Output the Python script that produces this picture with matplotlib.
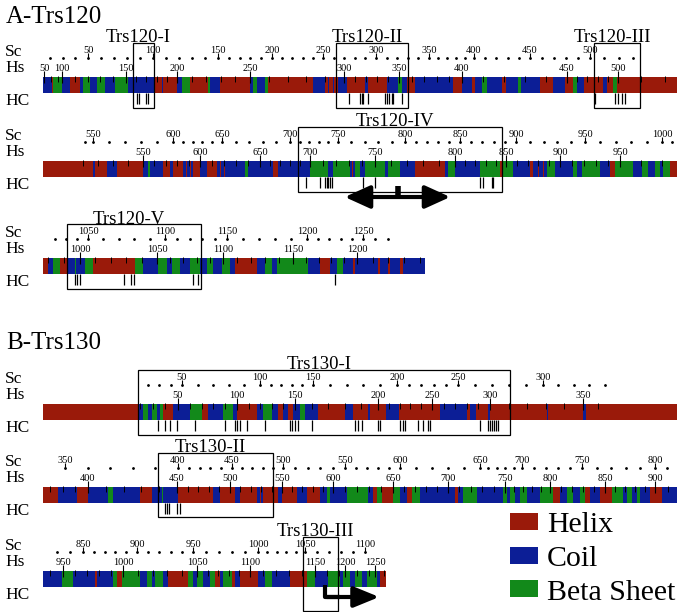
import matplotlib.pyplot as plt
import numpy as np
from matplotlib.patches import Rectangle, FancyArrowPatch, Patch

plt.rcParams['font.family'] = ['Liberation Serif', 'DejaVu Serif']

colors = {'H': '#9a1a0a', 'C': '#0c1e96', 'E': '#12891a'}

# secondary structure: type + end column (alignment columns, each row starts at col 43)
row_start = 43
ss_a1 = ("C52 H53 E62 C70 H80 C83 E90 C97 E105 C115 E128 C154 H162 C163 H177 C182 E190 H208 E210 "
         "C220 H250 C253 E257 C265 E268 H313 C325 H328 C329 H333 C334 H338 C347 H365 C368 H387 C398 "
         "E402 C407 H415 C453 H462 C472 H475 C482 E487 C502 H506 C518 E521 C540 H553 C565 H573 E577 "
         "C584 H603 C607 H613 E617 H677")
ss_a2 = ("H93 C95 H107 C117 H143 C148 E150 C163 H170 C173 H183 C186 H187 C190 H191 C193 H200 C207 H217 "
         "C220 H221 C224 H225 C245 E248 C273 H278 C310 E328 C333 E350 C352 H353 C355 E360 C365 E385 C388 "
         "E400 C415 H445 C448 E455 C480 E500 H502 E513 C530 H533 C538 H539 C543 H544 C547 E555 C573 E577 "
         "C582 E600 C610 H615 E633 C642 E648 C655 E660 C663 E670 H677")
ss_a3 = ("H48 C53 E60 H67 C75 E76 C85 E93 H135 E143 C158 E167 C172 E180 C190 E200 C207 E213 C222 E230 "
         "C235 H257 C265 E272 C277 E308 C320 H330 C337 E343 C353 H355 C378 H380 C388 H390 C400 H403 C425")
ss_b1 = ("H138 C143 E148 C152 E157 C160 E163 H173 C190 E202 H208 C223 E233 C237 H257 C263 E272 C278 H283 "
         "C288 H293 C300 E305 C318 H345 C353 H368 C370 H386 C399 H440 C467 H470 C476 H488 C490 H547 C548 "
         "H583 C586 H677")
ss_b2 = ("H58 C77 H88 C108 E113 C140 H152 C162 E163 C178 H213 C220 H235 C240 H257 C260 H261 C263 H278 "
         "C282 H297 C307 H320 C327 E330 C347 E368 C373 H377 E382 H393 E400 C407 H412 E420 C455 H458 C463 "
         "E477 C503 E507 C510 E515 C520 E527 C540 E553 H560 C567 E573 C580 E585 H590 C600 H612 E623 C627 "
         "E632 C637 E640 C650 H662 C677")
ss_b3 = ("C62 E73 C95 H97 C113 E117 H122 E140 C147 E152 C155 E163 C168 H188 E193 C197 E203 C210 E215 "
         "H220 C223 E232 H235 C240 H258 C265 E272 C290 H307 E315 C328 E340 C343 E350 C355 E362 C367 "
         "E377 C380 H386")

# residue numbering anchors (column, residue) for yeast (Sc) and human (Hs)
sc_a1 = [(50, 20), (88, 50), (153, 100), (218, 150), (272, 200), (323, 250), (376, 300), (429, 350),
         (474, 400), (530, 450), (590, 500), (633, 530)]
hs_a1 = [(44, 50), (62, 100), (126, 150), (177, 200), (250, 250), (344, 300), (399, 350), (462, 400),
         (567, 450), (618, 500), (665, 520)]
sc_a2 = [(85, 540), (93, 550), (173, 600), (222, 650), (290, 700), (338, 750), (405, 800), (460, 850),
         (516, 900), (585, 950), (662, 1000), (672, 1010)]
hs_a2 = [(83, 510), (143, 550), (200, 600), (260, 650), (310, 700), (375, 750), (455, 800), (506, 850),
         (560, 900), (620, 950), (672, 975)]
sc_a3 = [(55, 1020), (88, 1050), (165, 1100), (227, 1150), (307, 1200), (363, 1250), (388, 1270)]
hs_a3 = [(48, 980), (80, 1000), (157, 1050), (223, 1100), (293, 1150), (357, 1200), (420, 1240)]
sc_b1 = [(148, 20), (182, 50), (260, 100), (313, 150), (397, 200), (458, 250), (543, 300), (605, 340)]
hs_b1 = [(140, 20), (178, 50), (237, 100), (295, 150), (378, 200), (432, 250), (490, 300), (583, 350),
         (605, 365)]
sc_b2 = [(65, 350), (178, 400), (232, 450), (283, 500), (345, 550), (400, 600), (480, 650), (522, 700),
         (582, 750), (655, 800), (673, 815)]
hs_b2 = [(50, 370), (88, 400), (177, 450), (230, 500), (282, 550), (333, 600), (393, 650), (448, 700),
         (505, 750), (550, 800), (605, 850), (655, 900), (675, 915)]
sc_b3 = [(57, 830), (83, 850), (137, 900), (193, 950), (258, 1000), (305, 1050), (365, 1100), (372, 1105)]
hs_b3 = [(50, 940), (63, 950), (123, 1000), (197, 1050), (250, 1100), (315, 1150), (345, 1200),
         (375, 1250), (384, 1260)]

# HC marks (columns)
hc_a1 = [137, 139, 146, 148, 349, 360, 362, 363, 368, 385, 387, 389, 392, 393, 402, 595, 615, 618, 622, 625]
hc_a2 = [306, 320, 325, 327, 328, 330, 332, 363, 375, 480, 483, 492, 493]
hc_a3 = [75, 77, 80, 124, 131, 134, 193, 198, 335]
hc_b1 = [158, 165, 170, 177, 195, 225, 235, 237, 240, 247, 265, 290, 292, 295, 298, 312, 355, 358, 362,
         378, 380, 400, 403, 405, 418, 423, 428, 430, 480, 488, 490, 492, 494, 496, 498]
hc_b2 = [165, 167, 169, 177, 180]
hc_b3 = []

# boxed regions (name, first column, last column)
box_a1 = [('Trs120-I', 133, 154), ('Trs120-II', 336, 408), ('Trs120-III', 594, 640)]
box_a2 = [('Trs120-IV', 298, 502)]
box_a3 = [('Trs120-V', 67, 201)]
box_b1 = [('Trs130-I', 138, 510)]
box_b2 = [('Trs130-II', 158, 273)]
box_b3 = [('Trs130-III', 303, 338)]

rows = [
    (ss_a1, sc_a1, hs_a1, hc_a1, box_a1, 77, 31),
    (ss_a2, sc_a2, hs_a2, hc_a2, box_a2, 161, 31),
    (ss_a3, sc_a3, hs_a3, hc_a3, box_a3, 258, 31),
    (ss_b1, sc_b1, hs_b1, hc_b1, box_b1, 404, 31),
    (ss_b2, sc_b2, hs_b2, hc_b2, box_b2, 487, 30),
    (ss_b3, sc_b3, hs_b3, hc_b3, box_b3, 571, 40),
]

W, H = 685, 612
fig = plt.figure(figsize=(W / 100, H / 100), dpi=100)

axes = []
for ss, sc, hs, hc, boxes, top, box_bottom in rows:
    ax = fig.add_axes([43 / W, 1 - (top + 45) / H, 637 / W, 90 / H])
    ax.set_xlim(43, 680)
    ax.set_ylim(45, -45)
    ax.axis('off')
    axes.append(ax)

    # secondary structure bar
    edges = [row_start]
    kinds = []
    for tok in ss.split():
        kinds.append(tok[0])
        edges.append(int(tok[1:]))
    edges = np.array(edges)
    ax.bar(edges[:-1], 16, width=np.diff(edges), bottom=0, align='edge',
           color=[colors[k] for k in kinds], linewidth=0)

    # Sc ruler: dots every 10 residues, labels every 50
    cols, res = zip(*sc)
    r = np.arange(int(np.ceil(min(res) / 10) * 10), max(res) + 1, 10)
    c = np.interp(r, res, cols)
    ax.plot(c, np.full(len(c), -19), ls='none', marker='.', ms=2, color='k')
    for ri, ci in zip(r, c):
        if ri % 50 == 0:
            ax.vlines(ci, -24, -19, color='k', lw=0.8)
            ax.text(ci, -24, str(ri), ha='center', va='baseline', fontsize=7.5)

    # Hs ruler: ticks on bar every 10 residues, labels every 50
    cols, res = zip(*hs)
    r = np.arange(int(np.ceil(min(res) / 10) * 10), max(res) + 1, 10)
    c = np.interp(r, res, cols)
    last = -100
    for ri, ci in zip(r, c):
        if ri % 50 == 0:
            ax.vlines(ci, -6, 6, color='k', lw=0.8)
            ax.text(ci, -6, str(ri), ha='center', va='baseline', fontsize=7.5)
            last = ci
        elif ci - last > 7:
            ax.vlines(ci, -1, 5, color='k', lw=0.7)
            last = ci

    # HC marks
    if hc:
        ax.vlines(hc, 16, 27, color='k', lw=0.9)

    # row labels
    for lab, y in (('Sc', -21), ('Hs', -5), ('HC', 28)):
        ax.text(5, y, lab, ha='left', va='baseline', fontsize=12.5, clip_on=False)

    # boxed regions
    for name, x0, x1 in boxes:
        ax.add_patch(Rectangle((x0, -34), x1 - x0, box_bottom + 34, fill=False,
                               ec='k', lw=0.9, clip_on=False))
        ax.text((x0 + x1) / 2 - 5, -34.5, name, ha='center', va='baseline', fontsize=13.5)

# arrows
ax = axes[1]
ax.add_patch(FancyArrowPatch((342, 36), (453, 36), arrowstyle='<|-|>,head_length=1.1,head_width=0.5',
                             mutation_scale=14, lw=3, color='k', clip_on=False))
ax.vlines(398, 25, 36, color='k', lw=4)

ax = axes[5]
ax.plot([325, 325, 340], [14, 26, 26], color='k', lw=3, solid_capstyle='butt')
ax.add_patch(FancyArrowPatch((324, 26), (382, 26), arrowstyle='-|>,head_length=1.1,head_width=0.45',
                             mutation_scale=14, lw=3, color='k', clip_on=False))

# panel titles
fig.text(6 / W, 1 - 23 / H, 'A-Trs120', fontsize=18, va='baseline')
fig.text(6 / W, 1 - 349 / H, 'B-Trs130', fontsize=18, va='baseline')

# legend
handles = [Patch(fc=colors['H']), Patch(fc=colors['C']), Patch(fc=colors['E'])]
fig.legend(handles, ['Helix', 'Coil', 'Beta Sheet'], loc='upper left',
           bbox_to_anchor=(510 / W, 1 - 512 / H), frameon=False, fontsize=21.5,
           handlelength=0.94, handleheight=0.5, handletextpad=0.3, labelspacing=0.26,
           borderpad=0, borderaxespad=0)

fig.savefig('out.png', dpi=100)
